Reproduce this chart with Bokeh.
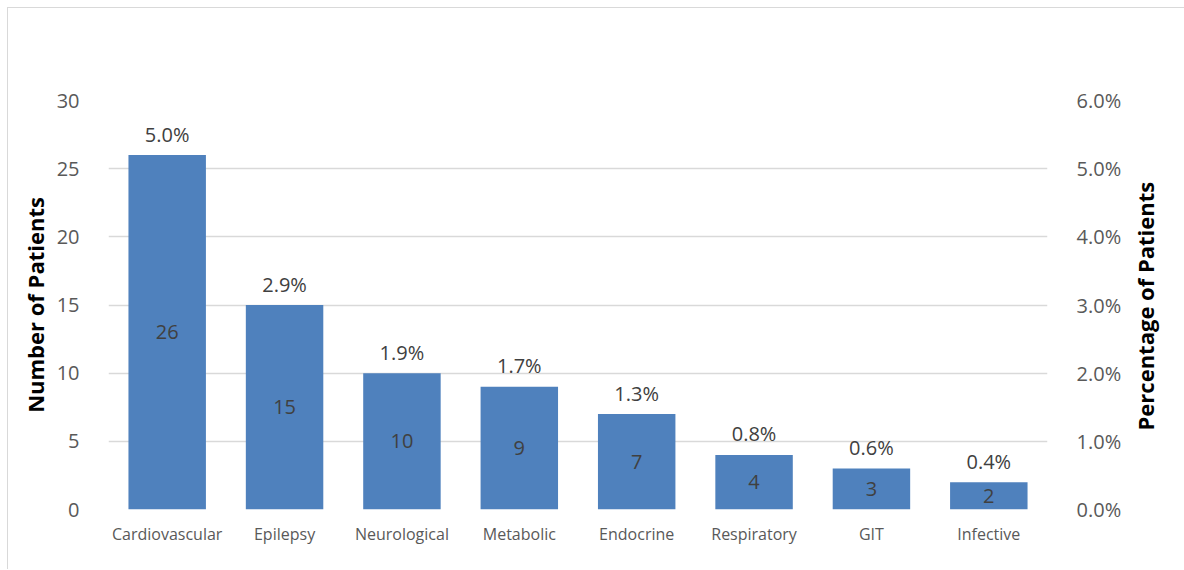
import math
from bokeh.plotting import figure
from bokeh.layouts import row
from bokeh.models import (ColumnDataSource, FactorRange, Range1d, LinearAxis,
                          NumeralTickFormatter, FixedTicker, Label)
from bokeh.core.properties import value
from bokeh.embed import file_html
from bokeh.resources import INLINE

categories = ["Cardiovascular", "Epilepsy", "Neurological", "Metabolic",
              "Endocrine", "Respiratory", "GIT", "Infective"]
counts = [26, 15, 10, 9, 7, 4, 3, 2]
percents = [5.0, 2.9, 1.9, 1.7, 1.3, 0.8, 0.6, 0.4]
left_ticks = [0, 5, 10, 15, 20, 25, 30]
right_ticks = [0.0, 0.01, 0.02, 0.03, 0.04, 0.05, 0.06]

FONT = "Open Sans"
TXT = "#595959"

src = ColumnDataSource(dict(
    cat=categories,
    count=counts,
    mid=[c / 2 for c in counts],
    count_lbl=[str(c) for c in counts],
    pct_lbl=["%.1f%%" % p for p in percents],
))

H = 561
p = figure(width=1116, height=H, x_range=FactorRange(*categories),
           y_range=Range1d(0, 30), output_backend="svg", toolbar_location=None,
           min_border_left=100, min_border_top=92, min_border_right=76,
           min_border_bottom=60)
p.outline_line_color = None
p.background_fill_color = "white"
p.border_fill_color = "white"

p.vbar(x="cat", top="count", width=0.66, source=src, fill_color="#4F81BD",
       line_color=None)

p.text(x="cat", y="mid", text="count_lbl", source=src, text_align="center",
       text_baseline="middle", text_font=value(FONT), text_font_size="20px",
       text_color="#404040")
p.text(x="cat", y="count", text="pct_lbl", source=src, text_align="center",
       text_baseline="middle", y_offset=-21, text_font=value(FONT),
       text_font_size="20px", text_color="#404040")

p.xgrid.grid_line_color = None
p.ygrid.grid_line_color = "#d9d9d9"
p.ygrid.grid_line_width = 1.5

ax = p.yaxis[0]
ax.ticker = FixedTicker(ticks=left_ticks)
ax.axis_label = "Number of Patients"
ax.axis_label_text_font = FONT
ax.axis_label_text_font_style = "bold"
ax.axis_label_text_font_size = "22px"
ax.axis_label_text_color = "black"
ax.axis_label_standoff = 4
ax.major_label_text_font = FONT
ax.major_label_text_font_size = "20px"
ax.major_label_text_color = TXT
ax.major_label_standoff = 23
ax.axis_line_color = None
ax.major_tick_line_color = None
ax.minor_tick_line_color = None

p.extra_y_ranges = {"pct": Range1d(0, 0.06)}
rax = LinearAxis(y_range_name="pct", ticker=FixedTicker(ticks=right_ticks),
                 formatter=NumeralTickFormatter(format="0.0%"))
rax.major_label_text_font = FONT
rax.major_label_text_font_size = "20px"
rax.major_label_text_color = TXT
rax.major_label_standoff = 23
rax.axis_line_color = None
rax.major_tick_line_color = None
rax.minor_tick_line_color = None
p.add_layout(rax, "right")

xa = p.xaxis[0]
xa.major_label_text_font = FONT
xa.major_label_text_font_size = "16px"
xa.major_label_text_color = TXT
xa.major_label_standoff = 7
xa.axis_line_color = None
xa.major_tick_line_color = None

# narrow side panel holding the right-hand axis title (reads bottom-to-top)
W2 = 60
p2 = figure(width=W2, height=H, x_range=Range1d(0, W2), y_range=Range1d(0, H),
            output_backend="svg", toolbar_location=None,
            x_axis_location=None, y_axis_location=None, min_border=0)
p2.outline_line_color = None
p2.xgrid.grid_line_color = None
p2.ygrid.grid_line_color = None
p2.background_fill_color = "white"
p2.border_fill_color = "white"
p2.add_layout(Label(x=20, y=H - 282, text="Percentage of Patients",
                    angle=math.pi / 2, text_align="center", text_baseline="middle",
                    text_font=FONT, text_font_style="bold", text_font_size="22px",
                    text_color="black"))

layout = row(p, p2)
layout.margin = (7, 0, 0, 7)
layout.styles = {"border-top": "1px solid #d9d9d9",
                 "border-left": "1px solid #d9d9d9"}

open("out.html", "w").write(file_html(layout, INLINE))
